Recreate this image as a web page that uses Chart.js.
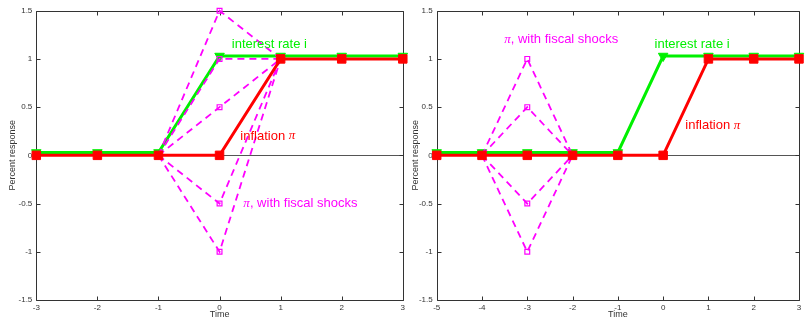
<!DOCTYPE html>
<html>
<head>
<meta charset="utf-8">
<script src="https://cdn.jsdelivr.net/npm/chart.js@4/dist/chart.umd.min.js"></script>
<style>
  html, body { margin: 0; padding: 0; background: #fff; }
  #wrap { position: relative; width: 806px; height: 320px; overflow: hidden; }
  canvas { position: absolute; top: 0; }
</style>
</head>
<body>
<div id="wrap">
  <canvas id="leftPanel" width="412" height="320" style="left:0"></canvas>
  <canvas id="rightPanel" width="403" height="320" style="left:403px"></canvas>
</div>
<script>
// ---- data ----
const yTickValues = [-1.5, -1, -0.5, 0, 0.5, 1, 1.5];

// Panel 1: interest-rate rise at t = 0
const leftTime = [-3, -2, -1, 0, 1, 2, 3];
const leftRate = [0.03, 0.03, 0.03, 1.03, 1.03, 1.03, 1.03];
const leftInflation = [0, 0, 0, 0, 1, 1, 1];
const leftFiscalTime = [-1, 0, 1];
const leftFiscalPaths = [
  [0, 1.5, 1],
  [0, 1, 1],
  [0, 0.5, 1],
  [0, -0.5, 1],
  [0, -1, 1]
];

// Panel 2: same rate path, fiscal shocks earlier
const rightTime = [-5, -4, -3, -2, -1, 0, 1, 2, 3];
const rightRate = [0.03, 0.03, 0.03, 0.03, 0.03, 1.03, 1.03, 1.03, 1.03];
const rightInflation = [0, 0, 0, 0, 0, 0, 1, 1, 1];
const rightFiscalTime = [-4, -3, -2];
const rightFiscalPaths = [
  [0, 1, 0],
  [0, 0.5, 0],
  [0, -0.5, 0],
  [0, -1, 0]
];

// ---- styling ----
const GREEN = '#00f000';
const RED = '#ff0000';
const MAGENTA = '#ff00ff';
const SANS = '"Liberation Sans", Arial, Helvetica, sans-serif';
const SERIF_IT = 'italic 13px "Liberation Serif", "Times New Roman", serif';

function pts(xs, ys) { return xs.map((x, i) => ({ x: x, y: ys[i] })); }

// First dataset is painted last (on top): inflation, then fiscal paths, then the rate
function buildDatasets(time, rate, infl, fTime, fPaths) {
  const sets = [];
  sets.push({
    data: pts(time, infl),
    borderColor: RED, backgroundColor: RED, borderWidth: 3,
    pointStyle: 'rect', pointRadius: 6, pointBorderWidth: 1,
    pointBorderColor: RED, pointBackgroundColor: RED, clip: false
  });
  fPaths.forEach(p => sets.push({
    data: pts(fTime, p),
    borderColor: MAGENTA, backgroundColor: 'rgba(0,0,0,0)',
    borderWidth: 1.8, borderDash: [7, 5],
    pointStyle: 'rect', pointRadius: 3.4, pointBorderWidth: 1.2,
    pointBorderColor: MAGENTA, pointBackgroundColor: 'rgba(255,255,255,0)',
    clip: false
  }));
  sets.push({
    data: pts(time, rate),
    borderColor: GREEN, backgroundColor: GREEN, borderWidth: 3,
    pointStyle: 'triangle', pointRotation: 180, pointRadius: 5.5, pointBorderWidth: 1,
    pointBorderColor: GREEN, pointBackgroundColor: GREEN, clip: false
  });
  return sets;
}

// Box frame, inward tick marks on all four sides and the zero line
const framePlugin = {
  id: 'frame',
  beforeDatasetsDraw(chart) {
    const { ctx, chartArea: a, scales } = chart;
    const xs = scales.x, ys = scales.y;
    ctx.save();
    const y0 = Math.round(ys.getPixelForValue(0)) + 0.5;
    ctx.strokeStyle = '#555';
    ctx.lineWidth = 1;
    ctx.beginPath(); ctx.moveTo(a.left, y0); ctx.lineTo(a.right, y0); ctx.stroke();

    ctx.strokeStyle = '#333';
    ctx.beginPath();
    const L = Math.round(a.left) + 0.5, R = Math.round(a.right) + 0.5;
    const T = Math.round(a.top) + 0.5, B = Math.round(a.bottom) + 0.5;
    ctx.rect(L, T, R - L, B - T);
    const tl = 4;
    xs.ticks.forEach(t => {
      const px = Math.round(xs.getPixelForValue(t.value)) + 0.5;
      ctx.moveTo(px, B); ctx.lineTo(px, B - tl);
      ctx.moveTo(px, T); ctx.lineTo(px, T + tl);
    });
    ys.ticks.forEach(t => {
      const py = Math.round(ys.getPixelForValue(t.value)) + 0.5;
      ctx.moveTo(L, py); ctx.lineTo(L + tl, py);
      ctx.moveTo(R, py); ctx.lineTo(R - tl, py);
    });
    ctx.stroke();
    ctx.restore();
  }
};

// Text notes placed in data coordinates; parts mix sans and italic-serif runs
const notesPlugin = {
  id: 'notes',
  afterDatasetsDraw(chart, args, opts) {
    const { ctx, scales } = chart;
    ctx.save();
    ctx.textBaseline = 'middle';
    ctx.textAlign = 'left';
    (opts.items || []).forEach(n => {
      let x = scales.x.getPixelForValue(n.x);
      const y = scales.y.getPixelForValue(n.y);
      ctx.fillStyle = n.color;
      n.parts.forEach(p => {
        ctx.font = p.serif ? SERIF_IT : '13px ' + SANS;
        ctx.fillText(p.t, x, y);
        x += ctx.measureText(p.t).width;
      });
    });
    ctx.restore();
  }
};

function makeChart(id, time, rate, infl, fTime, fPaths, xMin, xMax, yAxisWidth, padRight, notes) {
  return new Chart(document.getElementById(id), {
    type: 'line',
    data: { datasets: buildDatasets(time, rate, infl, fTime, fPaths) },
    plugins: [framePlugin, notesPlugin],
    options: {
      responsive: false,
      animation: false,
      layout: { padding: { top: 10.7, right: padRight, bottom: 0, left: 0 } },
      plugins: {
        legend: { display: false },
        tooltip: { enabled: false },
        notes: { items: notes }
      },
      scales: {
        x: {
          type: 'linear', min: xMin, max: xMax,
          grid: { display: false, drawTicks: false },
          border: { display: false },
          ticks: { stepSize: 1, color: '#333', font: { family: SANS, size: 8 }, padding: 3,
                   maxRotation: 0, autoSkip: false, callback: v => String(v) },
          title: { display: true, text: 'Time', color: '#333', font: { family: SANS, size: 9 },
                   padding: { top: 0, bottom: 0.5 } },
          afterFit: s => { s.height = 20; }
        },
        y: {
          type: 'linear', min: -1.5, max: 1.5,
          grid: { display: false, drawTicks: false },
          border: { display: false },
          afterBuildTicks: s => { s.ticks = yTickValues.map(v => ({ value: v })); },
          ticks: { color: '#333', font: { family: SANS, size: 8 }, padding: 4,
                   callback: v => String(v) },
          title: { display: true, text: 'Percent response', color: '#333',
                   font: { family: SANS, size: 9 }, padding: { top: 7, bottom: 0 } },
          afterFit: s => { s.width = yAxisWidth; }
        }
      }
    }
  });
}

makeChart('leftPanel', leftTime, leftRate, leftInflation, leftFiscalTime, leftFiscalPaths,
  -3, 3, 36.3, 412 - 402.8, [
    { x: 0.2, y: 1.15, color: GREEN, parts: [{ t: 'interest rate i' }] },
    { x: 0.34, y: 0.2, color: RED, parts: [{ t: 'inflation ' }, { t: 'π', serif: true }] },
    { x: 0.39, y: -0.5, color: MAGENTA, parts: [{ t: 'π', serif: true }, { t: ', with fiscal shocks' }] }
  ]);

makeChart('rightPanel', rightTime, rightRate, rightInflation, rightFiscalTime, rightFiscalPaths,
  -5, 3, 33.7, 403 - 400.3, [
    { x: -3.51, y: 1.2, color: MAGENTA, parts: [{ t: 'π', serif: true }, { t: ', with fiscal shocks' }] },
    { x: -0.19, y: 1.15, color: GREEN, parts: [{ t: 'interest rate i' }] },
    { x: 0.49, y: 0.31, color: RED, parts: [{ t: 'inflation ' }, { t: 'π', serif: true }] }
  ]);
</script>
</body>
</html>
